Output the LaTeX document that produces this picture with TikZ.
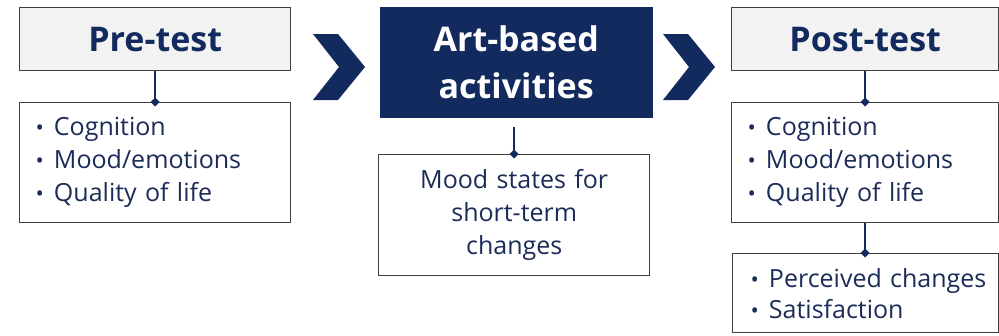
\documentclass[tikz,border=0pt]{standalone}
\usepackage{fontspec}
\setmainfont{Open Sans}
\usetikzlibrary{arrows.meta}
\definecolor{navy}{HTML}{132A5E}
\definecolor{txt}{HTML}{1C2C58}
\definecolor{boxgray}{HTML}{F2F2F2}
\definecolor{bordergray}{HTML}{3F3F3F}
\newcommand{\blt}[1]{\mbox{{\fontsize{22}{22}\selectfont •}\hspace{10pt}#1}}
\tikzset{
  titlebox/.style={draw=bordergray, line width=1.4pt, fill=boxgray, anchor=north west,
    minimum width=#1, minimum height=63pt, inner sep=0pt, text=navy,
    font=\fontsize{34}{38}\selectfont\bfseries},
  listbox/.style={draw=bordergray, line width=1.4pt, fill=white, anchor=north west,
    inner xsep=16pt, inner ysep=0pt, align=left, text=txt,
    font=\fontsize{25}{33}\selectfont},
  chev/.style={fill=navy, draw=none},
  link/.style={draw=navy, line width=2pt, -{Diamond[length=9pt,width=9pt]}, shorten >=-4.5pt},
}
\begin{document}
\begin{tikzpicture}[x=1pt, y=-1pt]
\clip (0,0) rectangle (999,335);
\fill[white] (0,0) rectangle (999,335);
% Pre-test
\node[titlebox=271pt] (pre) at (19,7) {Pre-test};
\node[listbox, text width=239pt, minimum height=120pt] (prelist) at (19,102)
  {\blt{Cognition}\\\blt{Mood/emotions}\\\blt{Quality of life}};
\draw[link] (pre.south) -- (prelist.north);
% Chevron 1
\fill[chev] (313,34) -- (338,34) -- (365,67) -- (338,100) -- (313,100) -- (339,67) -- cycle;
% Art-based
\node[draw=navy, fill=navy, anchor=north west, minimum width=272pt, minimum height=110pt,
  inner sep=0pt, align=center, text=white, font=\fontsize{34}{47}\selectfont\bfseries]
  (art) at (380,7) {Art-based\\activities};
\node[listbox, align=center, inner xsep=0pt, text width=271pt, minimum height=121pt] (mood) at (378,154)
  {Mood states for\\short-term\\changes};
\draw[link, shorten <=10pt] (art.south -| mood.north) -- (mood.north);
% Chevron 2
\fill[chev] (663,34) -- (688,34) -- (715,67) -- (688,100) -- (663,100) -- (689,67) -- cycle;
% Post-test
\node[titlebox=267pt] (post) at (731,7) {Post-test};
\node[listbox, text width=235pt, minimum height=120pt] (postlist) at (731,102)
  {\blt{Cognition}\\\blt{Mood/emotions}\\\blt{Quality of life}};
\draw[link] (post.south) -- (postlist.north);
\node[listbox, inner xsep=18pt, text width=230pt, minimum height=79pt,
  font=\fontsize{25}{31}\selectfont] (extra) at (732,253)
  {\blt{Perceived changes}\\\blt{Satisfaction}\\[11pt]};
\draw[link] (postlist.south) -- (postlist.south |- extra.north);
\end{tikzpicture}
\end{document}
